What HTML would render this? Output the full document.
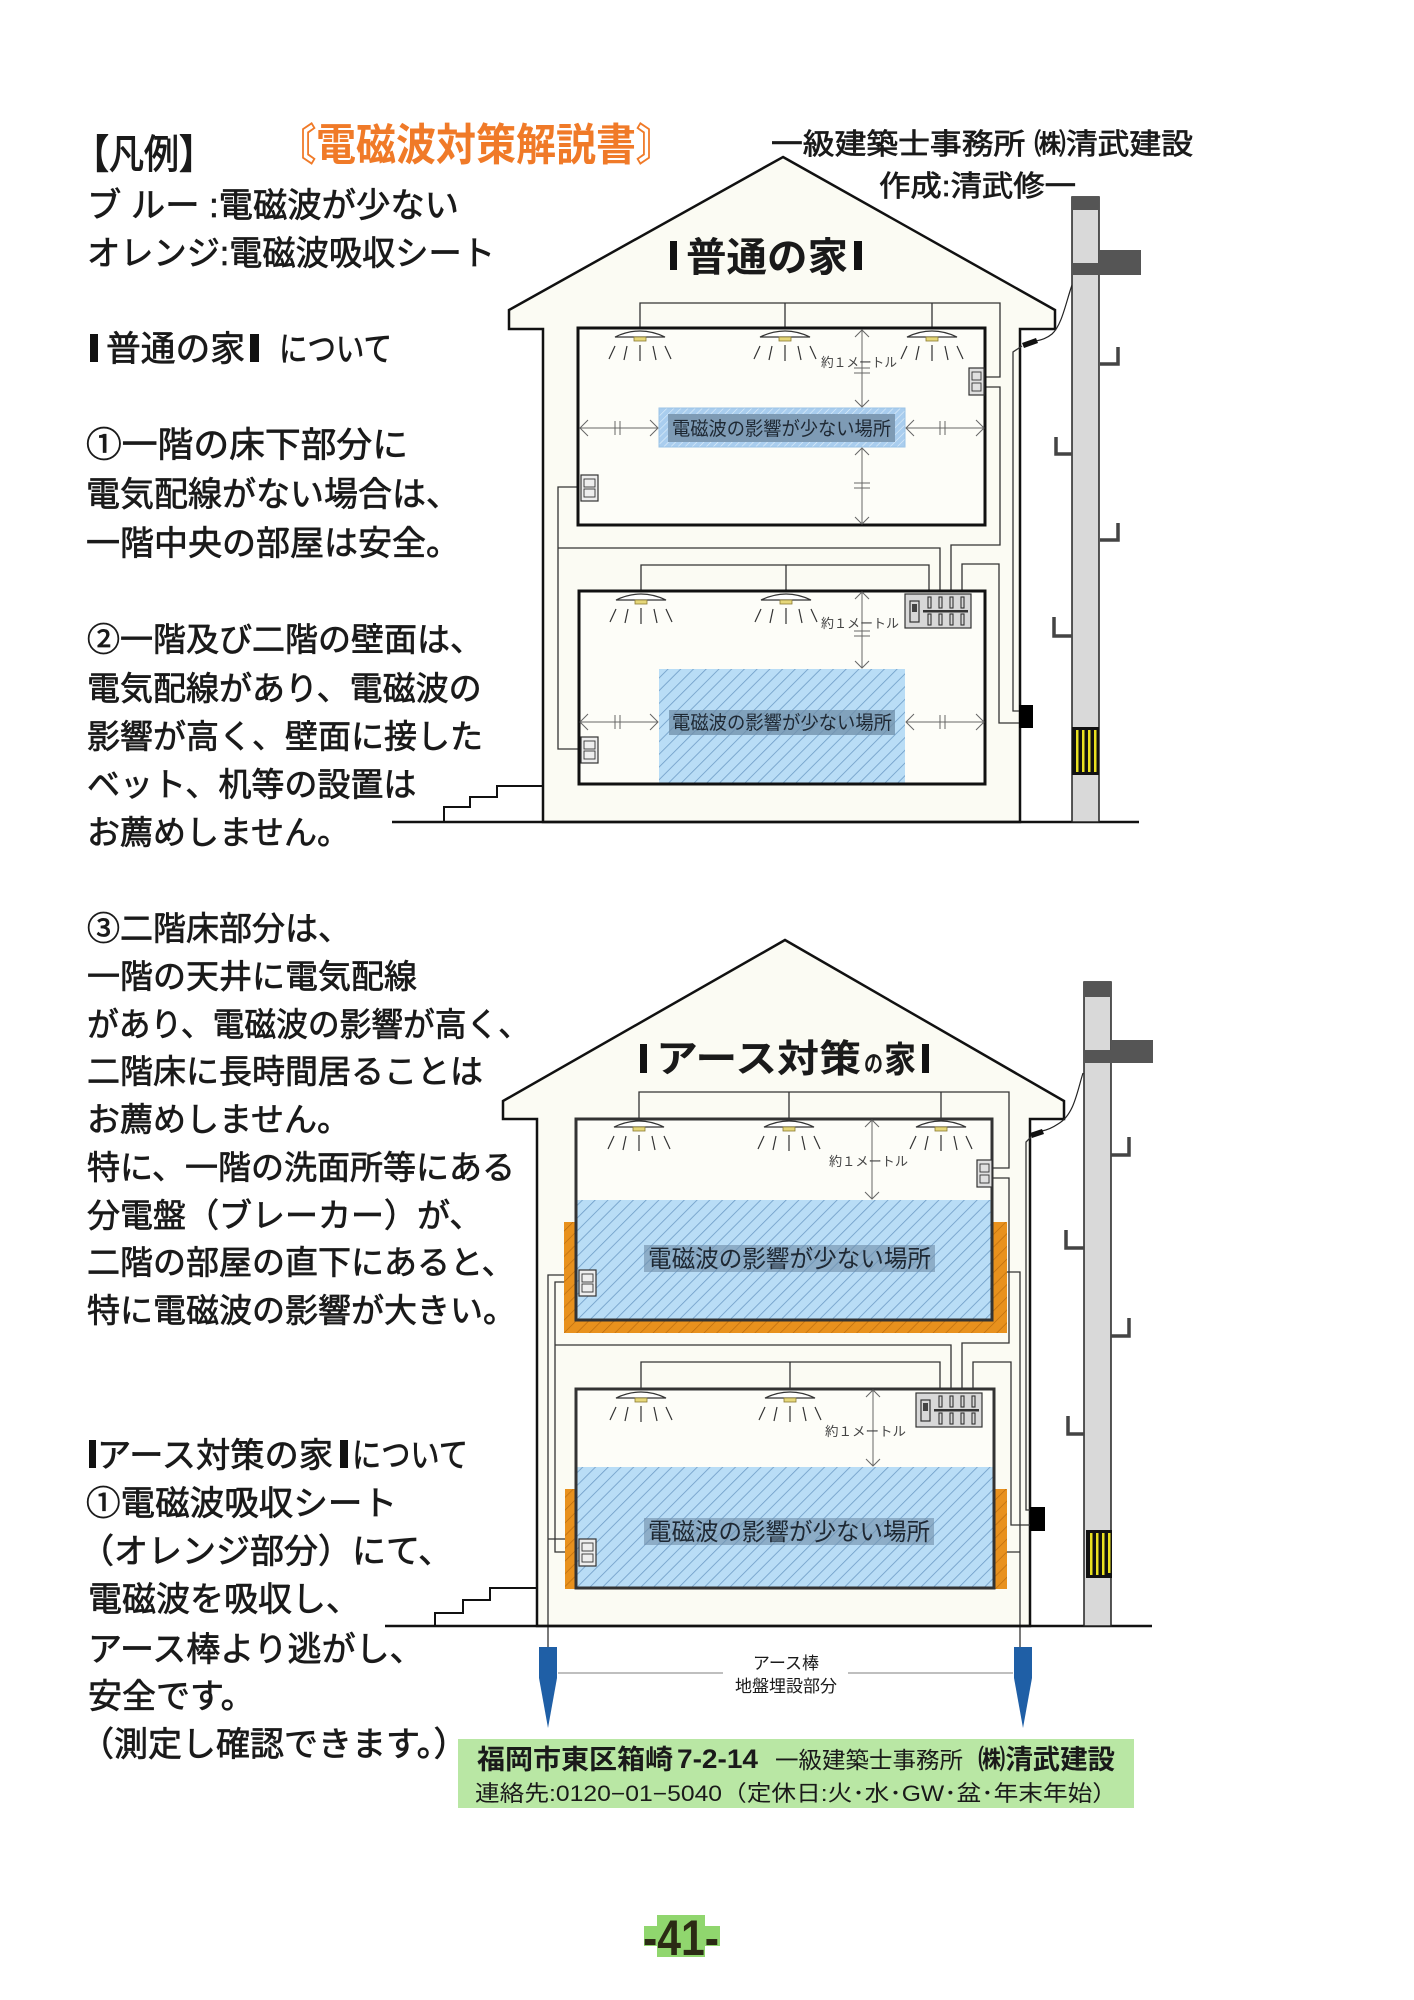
<!DOCTYPE html>
<html><head><meta charset="utf-8">
<style>
html,body{margin:0;padding:0;background:#fff;}
svg{display:block;}
text{font-family:"Liberation Sans","Noto Sans CJK JP",sans-serif;fill:#1a1a1a;}
.k{stroke:#1a1a1a;stroke-width:0.7;}
.w{fill:none;stroke:#333;stroke-width:1.3;}
.ar{fill:none;stroke:#666;stroke-width:1;}
.hk{fill:none;stroke:#444;stroke-width:3.5;}
</style></head>
<body>
<svg width="1414" height="2000" viewBox="0 0 1414 2000" xmlns="http://www.w3.org/2000/svg">
<defs>
<pattern id="hb" patternUnits="userSpaceOnUse" width="9" height="9" patternTransform="rotate(45)">
<rect width="9" height="9" fill="#b9ddf6"/><line x1="0" y1="0" x2="0" y2="9" stroke="#6e9cc6" stroke-width="1.6"/></pattern>
<pattern id="hl" patternUnits="userSpaceOnUse" width="5" height="5" patternTransform="rotate(45)">
<rect width="5" height="5" fill="#a9cdee"/><line x1="0" y1="0" x2="0" y2="5" stroke="#e2f0fb" stroke-width="1.2"/></pattern>
<pattern id="ho" patternUnits="userSpaceOnUse" width="9" height="9" patternTransform="rotate(45)">
<rect width="9" height="9" fill="#e8911d"/><line x1="0" y1="0" x2="0" y2="9" stroke="#b8690c" stroke-width="1.3"/></pattern>
</defs>
<rect width="1414" height="2000" fill="#fff"/>

<!-- ===== LEFT TEXT ===== -->
<text class="k" x="74" y="168" font-size="40" textLength="140" lengthAdjust="spacingAndGlyphs" style="stroke-width:1">【凡例】</text>
<text x="276" y="160" font-size="44" textLength="400" lengthAdjust="spacingAndGlyphs" style="fill:#f07a28;font-weight:bold">〘電磁波対策解説書〙</text>
<text class="k" x="87" y="217" font-size="34" textLength="372" lengthAdjust="spacingAndGlyphs">ブ ルー :電磁波が少ない</text>
<text class="k" x="87" y="265" font-size="34" textLength="408" lengthAdjust="spacingAndGlyphs">オレンジ:電磁波吸収シート</text>

<rect x="90" y="334" width="8" height="28" fill="#111"/>
<text class="k" x="106" y="361" font-size="35" textLength="139" lengthAdjust="spacingAndGlyphs">普通の家</text>
<rect x="250" y="334" width="9" height="28" fill="#111"/>
<text class="k" x="279" y="361" font-size="34" textLength="113" lengthAdjust="spacingAndGlyphs">について</text>

<text class="k" x="86" y="457" font-size="35" textLength="322" lengthAdjust="spacingAndGlyphs">①一階の床下部分に</text>
<text class="k" x="86" y="506" font-size="34">電気配線がない場合は、</text>
<text class="k" x="86" y="555" font-size="34">一階中央の部屋は安全。</text>

<g font-size="33" class="k">
<text x="87" y="651">②一階及び二階の壁面は、</text>
<text x="87" y="700">電気配線があり、電磁波の</text>
<text x="87" y="748">影響が高く、壁面に接した</text>
<text x="87" y="796">ベット、机等の設置は</text>
<text x="87" y="844">お薦めしません。</text>
<text x="87" y="940">③二階床部分は、</text>
<text x="87" y="988">一階の天井に電気配線</text>
<text x="87" y="1036" textLength="443" lengthAdjust="spacingAndGlyphs">があり、電磁波の影響が高く、</text>
<text x="87" y="1083">二階床に長時間居ることは</text>
<text x="87" y="1131">お薦めしません。</text>
<text x="87" y="1179">特に、一階の洗面所等にある</text>
<text x="87" y="1227">分電盤（ブレーカー）が、</text>
<text x="87" y="1274">二階の部屋の直下にあると、</text>
<text x="87" y="1322">特に電磁波の影響が大きい。</text>
</g>

<rect x="89" y="1440" width="7" height="28" fill="#111"/>
<text class="k" x="97" y="1467" font-size="34" textLength="236" lengthAdjust="spacingAndGlyphs">アース対策の家</text>
<rect x="340" y="1440" width="8" height="28" fill="#111"/>
<text class="k" x="352" y="1467" font-size="34" textLength="116" lengthAdjust="spacingAndGlyphs">について</text>
<g font-size="34" class="k">
<text x="86" y="1515" textLength="311" lengthAdjust="spacingAndGlyphs">①電磁波吸収シート</text>
<text x="80" y="1563">（オレンジ部分）にて、</text>
<text x="88" y="1611">電磁波を吸収し、</text>
<text x="88" y="1661">アース棒より逃がし、</text>
<text x="88" y="1708">安全です。</text>
<text x="80" y="1756">（測定し確認できます。）</text>
</g>

<!-- top right -->
<text class="k" x="771" y="154" font-size="29" textLength="422" lengthAdjust="spacingAndGlyphs">一級建築士事務所 ㈱清武建設</text>
<text class="k" x="879" y="196" font-size="29" textLength="197" lengthAdjust="spacingAndGlyphs">作成:清武修一</text>

<!-- ===== UPPER HOUSE ===== -->
<polygon points="783,157 1055,310 1055,329 1020,329 1020,822 543,822 543,329 509,329 509,310" fill="#fbfbf3" stroke="#111" stroke-width="2.5" stroke-linejoin="miter"/>
<rect x="670" y="241" width="7" height="29" fill="#111"/>
<text x="686" y="271" font-size="40" textLength="162" lengthAdjust="spacingAndGlyphs" style="font-weight:bold">普通の家</text>
<rect x="854" y="241" width="8" height="29" fill="#111"/>

<!-- wires upper -->
<path class="w" d="M640,329 V303 H1000 V377 H984 M785,303 V329 M932,303 V329"/>
<path class="w" d="M984,387 H1000 V545 H951 V594"/>
<path class="w" d="M598,487 H558 V749 H581 M558,548 H940 V594"/>
<path class="w" d="M641,591 V565 H929 V594 M786,565 V591"/>
<path class="w" d="M962,594 V564 H999 V723 H1019"/>
<path fill="none" stroke="#222" stroke-width="1.2" d="M1072,285 C1066,302 1062,325 1052,334 C1046,339 1040,340 1036,341"/>
<polygon points="1022,343 1036,338 1038,343 1024,348" fill="#111"/>
<path class="w" d="M1022,346 L1013,352 V711 H1019"/>

<!-- upper rooms -->
<rect x="578" y="328" width="407" height="197" fill="#fdfdf8"/>
<rect x="579" y="591" width="406" height="193" fill="#fdfdf8"/>
<rect x="659" y="669" width="246" height="114" fill="url(#hb)"/>
<rect x="578" y="328" width="407" height="197" fill="none" stroke="#111" stroke-width="3"/>
<rect x="579" y="591" width="406" height="193" fill="none" stroke="#111" stroke-width="3"/>

<!-- 2F label -->
<rect x="659" y="408" width="246" height="39" fill="url(#hl)" stroke="#9cc3e6" stroke-width="1"/>
<rect x="668" y="414" width="227" height="28" fill="#7e9bb5"/>
<text x="672" y="435" font-size="19" textLength="219" lengthAdjust="spacingAndGlyphs" style="fill:#1e2833">電磁波の影響が少ない場所</text>
<!-- 1F label -->
<rect x="669" y="710" width="226" height="25" fill="#6f8ea8" opacity="0.75"/>
<text x="672" y="729" font-size="19" textLength="220" lengthAdjust="spacingAndGlyphs" style="fill:#1e2833">電磁波の影響が少ない場所</text>

<!-- arrows upper -->
<g class="ar">
<path d="M580,428 H657 M588,420 L580,428 L588,436 M650,420 L658,428 L650,436 M615,421 V435 M620,421 V435"/>
<path d="M906,428 H984 M914,420 L906,428 L914,436 M976,420 L984,428 L976,436 M940,421 V435 M945,421 V435"/>
<path d="M862,330 V407 M855,337 L862,330 L869,337 M855,400 L862,407 L869,400 M854,368 H870 M854,373 H870"/>
<path d="M862,448 V524 M855,455 L862,448 L869,455 M855,517 L862,524 L869,517 M854,483 H870 M854,488 H870"/>
<path d="M862,592 V668 M855,599 L862,592 L869,599 M855,661 L862,668 L869,661 M854,631 H870 M854,636 H870"/>
<path d="M580,722 H658 M588,714 L580,722 L588,730 M650,714 L658,722 L650,730 M615,715 V729 M620,715 V729"/>
<path d="M906,722 H984 M914,714 L906,722 L914,730 M976,714 L984,722 L976,730 M940,715 V729 M945,715 V729"/>
</g>
<text x="821" y="367" font-size="13" textLength="76" lengthAdjust="spacingAndGlyphs" style="fill:#444">約１メートル</text>
<text x="821" y="628" font-size="13" textLength="78" lengthAdjust="spacingAndGlyphs" style="fill:#444">約１メートル</text>

<!-- lights upper -->
<g stroke="#333" stroke-width="1.2" fill="#fff">
<path d="M615,337 Q640,325 665,337 Z"/><path d="M760,337 Q785,325 810,337 Z"/><path d="M907,337 Q932,325 957,337 Z"/>
<path d="M616,600 Q641,588 666,600 Z"/><path d="M761,600 Q786,588 811,600 Z"/>
</g>
<g fill="#e6d77a" stroke="#8a7a30" stroke-width="0.8">
<rect x="634" y="337" width="12" height="4"/><rect x="779" y="337" width="12" height="4"/><rect x="926" y="337" width="12" height="4"/>
<rect x="635" y="600" width="12" height="4"/><rect x="780" y="600" width="12" height="4"/>
</g>
<g stroke="#333" stroke-width="1.2">
<path d="M609,359 L615,346 M624,360 L627,346 M640,361 V345 M653,346 L656,360 M665,346 L671,359"/>
<path d="M754,359 L760,346 M769,360 L772,346 M785,361 V345 M798,346 L801,360 M810,346 L816,359"/>
<path d="M901,359 L907,346 M916,360 L919,346 M932,361 V345 M945,346 L948,360 M957,346 L963,359"/>
<path d="M610,622 L616,609 M625,623 L628,609 M641,624 V608 M654,609 L657,623 M666,609 L672,622"/>
<path d="M755,622 L761,609 M770,623 L773,609 M786,624 V608 M799,609 L802,623 M811,609 L817,622"/>
</g>

<!-- switch, outlets, breaker upper -->
<rect x="969" y="368" width="15" height="27" fill="#e0e0e0" stroke="#333" stroke-width="1.2"/>
<rect x="972" y="372" width="9" height="8" fill="none" stroke="#333" stroke-width="0.9"/><rect x="972" y="383" width="9" height="8" fill="none" stroke="#333" stroke-width="0.9"/>
<rect x="581" y="475" width="17" height="26" fill="#eee" stroke="#333" stroke-width="1.2"/>
<rect x="584" y="479" width="11" height="8" fill="none" stroke="#333" stroke-width="0.9"/><rect x="584" y="489" width="11" height="8" fill="none" stroke="#333" stroke-width="0.9"/>
<rect x="581" y="737" width="17" height="26" fill="#eee" stroke="#333" stroke-width="1.2"/>
<rect x="584" y="741" width="11" height="8" fill="none" stroke="#333" stroke-width="0.9"/><rect x="584" y="751" width="11" height="8" fill="none" stroke="#333" stroke-width="0.9"/>
<g>
<rect x="905" y="594" width="66" height="34" fill="#d8d8d8" stroke="#333" stroke-width="1.2"/>
<rect x="910" y="601" width="9" height="21" fill="none" stroke="#333" stroke-width="1.2"/><rect x="912" y="604" width="5" height="8" fill="#444"/>
<g fill="none" stroke="#333" stroke-width="1.1">
<rect x="928" y="597" width="3" height="11"/><rect x="939" y="597" width="3" height="11"/><rect x="950" y="597" width="3" height="11"/><rect x="961" y="597" width="3" height="11"/>
<rect x="928" y="614" width="3" height="11"/><rect x="939" y="614" width="3" height="11"/><rect x="950" y="614" width="3" height="11"/><rect x="961" y="614" width="3" height="11"/>
</g>
<rect x="923" y="610" width="45" height="2.5" fill="#333"/>
</g>
<rect x="1019" y="705" width="14" height="23" fill="#000"/>

<!-- stairs + ground upper -->
<polyline points="444,822 444,807 470,807 470,797 497,797 497,786 542,786" fill="none" stroke="#111" stroke-width="2"/>
<line x1="392" y1="822" x2="1139" y2="822" stroke="#111" stroke-width="2.5"/>

<!-- upper pole -->
<rect x="1072" y="197" width="27" height="625" fill="#d9d9d9" stroke="#222" stroke-width="1.5"/>
<rect x="1072" y="197" width="27" height="13" fill="#555"/>
<rect x="1072" y="263" width="27" height="12" fill="#555"/>
<rect x="1099" y="250" width="42" height="25" fill="#555"/>
<rect x="1072" y="727" width="27" height="48" fill="#111"/>
<g fill="#e8e020"><rect x="1076" y="730" width="2.5" height="42"/><rect x="1082" y="730" width="2.5" height="42"/><rect x="1088" y="730" width="2.5" height="42"/><rect x="1094" y="730" width="2.5" height="42"/></g>
<path class="hk" d="M1100,364 H1118 V347 M1072,454 H1056 V437 M1100,540 H1118 V523 M1072,636 H1054 V617"/>

<!-- ===== LOWER HOUSE ===== -->
<polygon points="785,940 1064,1101 1064,1119 1030,1119 1030,1626 537,1626 537,1119 503,1119 503,1101" fill="#fbfbf3" stroke="#111" stroke-width="2.5"/>
<rect x="640" y="1044" width="7" height="29" fill="#111"/>
<text x="656" y="1072" font-size="38" textLength="205" lengthAdjust="spacingAndGlyphs" style="font-weight:bold">アース対策</text>
<text x="864" y="1072" font-size="24" textLength="19" lengthAdjust="spacingAndGlyphs" style="font-weight:bold">の</text>
<text x="884" y="1072" font-size="36" textLength="32" lengthAdjust="spacingAndGlyphs" style="font-weight:bold">家</text>
<rect x="922" y="1044" width="7" height="29" fill="#111"/>

<!-- wires lower -->
<path class="w" d="M639,1119 V1092 H1009 V1168 H992 M789,1092 V1119 M941,1092 V1119"/>
<path class="w" d="M992,1178 H1009 V1343 H962 V1393"/>
<path class="w" d="M579,1282 H555 V1552 H579 M555,1345 H951 V1393"/>
<path class="w" d="M564,1275 H548 V1647 M565,1539 H548"/>
<path class="w" d="M641,1389 V1362 H940 V1393 M790,1362 V1389"/>
<path class="w" d="M973,1393 V1362 H1011 V1525 H1030"/>
<path class="w" d="M1004,1272 H1020 V1647 M1004,1552 H1020"/>
<path fill="none" stroke="#222" stroke-width="1.2" d="M1083,1073 C1077,1092 1074,1115 1058,1124 C1052,1128 1047,1130 1042,1131"/>
<polygon points="1030,1133 1042,1129 1044,1134 1032,1138" fill="#111"/>
<path class="w" d="M1031,1137 L1026,1142 V1510 H1030"/>

<!-- lower rooms -->
<rect x="564" y="1222" width="443" height="111" fill="url(#ho)"/>
<rect x="565" y="1489" width="13" height="100" fill="url(#ho)"/>
<rect x="994" y="1489" width="13" height="100" fill="url(#ho)"/>
<rect x="576" y="1119" width="416" height="201" fill="#fdfdf8"/>
<rect x="576" y="1200" width="416" height="120" fill="url(#hb)"/>
<rect x="576" y="1119" width="416" height="201" fill="none" stroke="#333" stroke-width="3"/>
<rect x="576" y="1389" width="418" height="199" fill="#fdfdf8"/>
<rect x="576" y="1467" width="418" height="121" fill="url(#hb)"/>
<rect x="576" y="1389" width="418" height="199" fill="none" stroke="#333" stroke-width="3"/>

<rect x="644" y="1245" width="291" height="27" fill="#6f8ea8" opacity="0.6"/>
<text x="648" y="1267" font-size="24" textLength="283" lengthAdjust="spacingAndGlyphs" style="fill:#1e2833">電磁波の影響が少ない場所</text>
<rect x="644" y="1518" width="290" height="27" fill="#6f8ea8" opacity="0.6"/>
<text x="648" y="1540" font-size="24" textLength="282" lengthAdjust="spacingAndGlyphs" style="fill:#1e2833">電磁波の影響が少ない場所</text>

<g class="ar">
<path d="M872,1120 V1199 M865,1127 L872,1120 L879,1127 M865,1192 L872,1199 L879,1192"/>
<path d="M873,1390 V1466 M866,1397 L873,1390 L880,1397 M866,1459 L873,1466 L880,1459"/>
</g>
<text x="829" y="1166" font-size="13" textLength="79" lengthAdjust="spacingAndGlyphs" style="fill:#444">約１メートル</text>
<text x="825" y="1436" font-size="13" textLength="81" lengthAdjust="spacingAndGlyphs" style="fill:#444">約１メートル</text>

<!-- lights lower -->
<g stroke="#333" stroke-width="1.2" fill="#fff">
<path d="M614,1127 Q639,1115 664,1127 Z"/><path d="M764,1127 Q789,1115 814,1127 Z"/><path d="M916,1127 Q941,1115 966,1127 Z"/>
<path d="M616,1398 Q641,1386 666,1398 Z"/><path d="M765,1398 Q790,1386 815,1398 Z"/>
</g>
<g fill="#e6d77a" stroke="#8a7a30" stroke-width="0.8">
<rect x="633" y="1127" width="12" height="4"/><rect x="783" y="1127" width="12" height="4"/><rect x="935" y="1127" width="12" height="4"/>
<rect x="635" y="1398" width="12" height="4"/><rect x="784" y="1398" width="12" height="4"/>
</g>
<g stroke="#333" stroke-width="1.2">
<path d="M608,1149 L614,1136 M623,1150 L626,1136 M639,1151 V1135 M652,1136 L655,1150 M664,1136 L670,1149"/>
<path d="M758,1149 L764,1136 M773,1150 L776,1136 M789,1151 V1135 M802,1136 L805,1150 M814,1136 L820,1149"/>
<path d="M910,1149 L916,1136 M925,1150 L928,1136 M941,1151 V1135 M954,1136 L957,1150 M966,1136 L972,1149"/>
<path d="M610,1420 L616,1407 M625,1421 L628,1407 M641,1422 V1406 M654,1407 L657,1421 M666,1407 L672,1420"/>
<path d="M759,1420 L765,1407 M774,1421 L777,1407 M790,1422 V1406 M803,1407 L806,1421 M815,1407 L821,1420"/>
</g>

<rect x="977" y="1160" width="15" height="27" fill="#e0e0e0" stroke="#333" stroke-width="1.2"/>
<rect x="980" y="1164" width="9" height="8" fill="none" stroke="#333" stroke-width="0.9"/><rect x="980" y="1175" width="9" height="8" fill="none" stroke="#333" stroke-width="0.9"/>
<rect x="579" y="1270" width="17" height="26" fill="#eee" stroke="#333" stroke-width="1.2"/>
<rect x="582" y="1274" width="11" height="8" fill="none" stroke="#333" stroke-width="0.9"/><rect x="582" y="1284" width="11" height="8" fill="none" stroke="#333" stroke-width="0.9"/>
<rect x="579" y="1539" width="17" height="27" fill="#eee" stroke="#333" stroke-width="1.2"/>
<rect x="582" y="1543" width="11" height="8" fill="none" stroke="#333" stroke-width="0.9"/><rect x="582" y="1554" width="11" height="8" fill="none" stroke="#333" stroke-width="0.9"/>
<g transform="translate(11,799)">
<rect x="905" y="594" width="66" height="34" fill="#d8d8d8" stroke="#333" stroke-width="1.2"/>
<rect x="910" y="601" width="9" height="21" fill="none" stroke="#333" stroke-width="1.2"/><rect x="912" y="604" width="5" height="8" fill="#444"/>
<g fill="none" stroke="#333" stroke-width="1.1">
<rect x="928" y="597" width="3" height="11"/><rect x="939" y="597" width="3" height="11"/><rect x="950" y="597" width="3" height="11"/><rect x="961" y="597" width="3" height="11"/>
<rect x="928" y="614" width="3" height="11"/><rect x="939" y="614" width="3" height="11"/><rect x="950" y="614" width="3" height="11"/><rect x="961" y="614" width="3" height="11"/>
</g>
<rect x="923" y="610" width="45" height="2.5" fill="#333"/>
</g>
<rect x="1030" y="1507" width="15" height="24" fill="#000"/>

<polyline points="435,1626 435,1613 463,1613 463,1600 490,1600 490,1588 537,1588" fill="none" stroke="#111" stroke-width="2"/>
<line x1="385" y1="1626" x2="1152" y2="1626" stroke="#111" stroke-width="2.5"/>

<!-- lower pole -->
<rect x="1084" y="982" width="27" height="644" fill="#d9d9d9" stroke="#222" stroke-width="1.5"/>
<rect x="1084" y="982" width="27" height="15" fill="#555"/>
<rect x="1084" y="1050" width="27" height="13" fill="#555"/>
<rect x="1111" y="1040" width="42" height="23" fill="#555"/>
<rect x="1086" y="1530" width="26" height="48" fill="#111"/>
<g fill="#e8e020"><rect x="1090" y="1533" width="2.5" height="42"/><rect x="1096" y="1533" width="2.5" height="42"/><rect x="1102" y="1533" width="2.5" height="42"/><rect x="1108" y="1533" width="2.5" height="40"/></g>
<path class="hk" d="M1111,1155 H1129 V1137 M1084,1248 H1066 V1230 M1111,1336 H1129 V1318 M1084,1434 H1068 V1416"/>

<!-- earth rods -->
<polygon points="539,1647 557,1647 557,1678 548,1728 539,1678" fill="#1f5fa6"/>
<polygon points="1014,1647 1032,1647 1032,1678 1023,1728 1014,1678" fill="#1f5fa6"/>
<path d="M558,1673 H723 M848,1673 H1013" stroke="#aaa" stroke-width="1.5" fill="none"/>
<text x="786" y="1669" font-size="17" text-anchor="middle">アース棒</text>
<text x="786" y="1692" font-size="17" text-anchor="middle">地盤埋設部分</text>

<!-- footer -->
<rect x="458" y="1739" width="676" height="69" fill="#b9e7a4"/>
<text x="477" y="1769" font-size="27" textLength="196" lengthAdjust="spacingAndGlyphs" style="font-weight:bold">福岡市東区箱崎</text>
<text x="677" y="1768" font-size="27" textLength="81" lengthAdjust="spacingAndGlyphs" style="font-weight:bold">7-2-14</text>
<text x="775" y="1768" font-size="23" textLength="188" lengthAdjust="spacingAndGlyphs">一級建築士事務所</text>
<text x="978" y="1769" font-size="27" textLength="137" lengthAdjust="spacingAndGlyphs" style="font-weight:bold">㈱清武建設</text>
<text x="475" y="1801" font-size="22" textLength="642" lengthAdjust="spacingAndGlyphs">連絡先:0120−01−5040（定休日:火･水･GW･盆･年末年始）</text>

<!-- page number -->
<rect x="644" y="1926" width="76" height="20" fill="#90d66e"/>
<rect x="657" y="1915" width="48" height="42" fill="#90d66e"/>
<text x="643" y="1955" font-size="50" textLength="76" lengthAdjust="spacingAndGlyphs" style="font-weight:bold;fill:#2b2b14">-41-</text>
</svg>
</body></html>
